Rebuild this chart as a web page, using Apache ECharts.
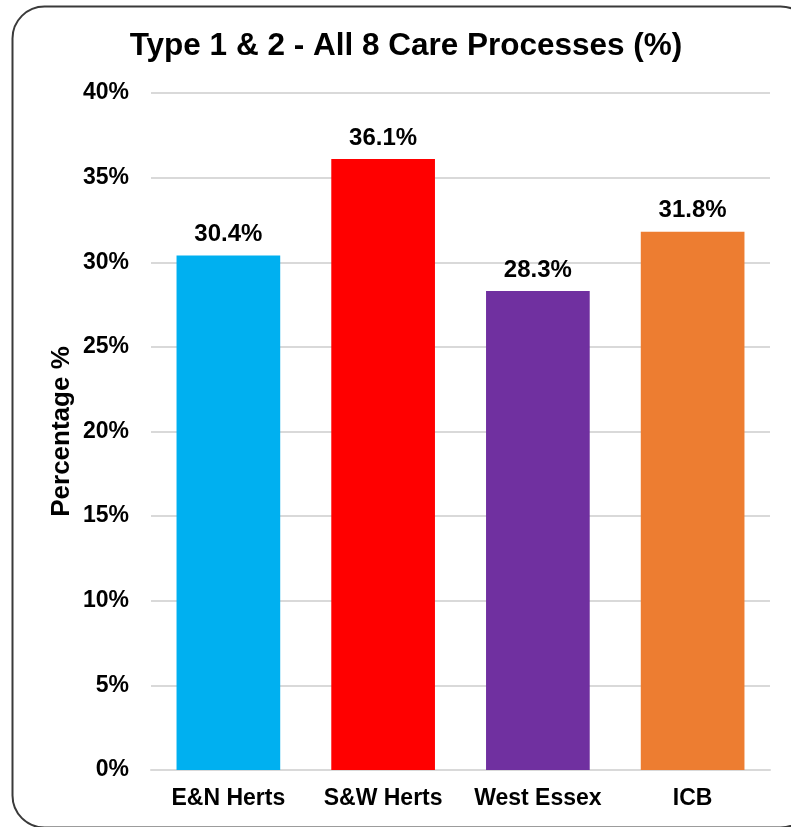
<!DOCTYPE html>
<html><head><meta charset="utf-8">
<script src="https://cdn.jsdelivr.net/npm/echarts@6/dist/echarts.min.js"></script>
<style>html,body{margin:0;padding:0;background:#fff}#c{width:791px;height:827px}</style>
</head><body><div id="c"></div>
<script>
const categories = ['E&N Herts', 'S&W Herts', 'West Essex', 'ICB'];
const values = [30.4, 36.1, 28.3, 31.8];
const colors = ['#00B0F0', '#FF0000', '#7030A0', '#ED7D31'];
const titleText = 'Type 1 & 2 - All 8 Care Processes (%)';
const yAxisName = 'Percentage %';

const chart = echarts.init(document.getElementById('c'), null, {renderer: 'canvas'});
const font = 'Liberation Sans, Arial, sans-serif';
chart.setOption({
  animation: false,
  textStyle: {fontFamily: font},
  graphic: [{
    type: 'rect', left: 10, top: 4,
    shape: {width: 800, height: 821, r: 32},
    style: {fill: 'none', stroke: '#3a3a3a', lineWidth: 2}
  }],
  title: {
    text: titleText, left: 401, textAlign: 'center', top: 25,
    textStyle: {fontFamily: font, fontSize: 31.5, fontWeight: 'bold', color: '#000'}
  },
  grid: {left: 151, right: 21, top: 93, bottom: 57},
  xAxis: {
    type: 'category', data: categories,
    axisTick: {show: false},
    axisLine: {lineStyle: {color: '#D9D9D9', width: 2}},
    axisLabel: {interval: 0, fontFamily: font, fontSize: 23, fontWeight: 'bold', color: '#000', margin: 17}
  },
  yAxis: {
    type: 'value', min: 0, max: 40, interval: 5,
    name: yAxisName, nameLocation: 'middle', nameGap: 76, nameRotate: 90,
    nameMoveOverlap: false,
    nameTextStyle: {fontFamily: font, fontSize: 26, fontWeight: 'bold', color: '#000'},
    axisLabel: {fontFamily: font, fontSize: 23, fontWeight: 'bold', color: '#000', formatter: '{value}%', margin: 22},
    splitLine: {lineStyle: {color: '#D9D9D9', width: 2}},
    axisLine: {show: false}, axisTick: {show: false}
  },
  series: [{
    type: 'bar', barWidth: '67%',
    data: values.map((v, i) => ({value: v, itemStyle: {color: colors[i]}})),
    label: {
      show: true, position: 'top', distance: 9,
      formatter: p => p.value.toFixed(1) + '%',
      fontFamily: font, fontSize: 24, fontWeight: 'bold', color: '#000'
    }
  }]
});
</script></body></html>
